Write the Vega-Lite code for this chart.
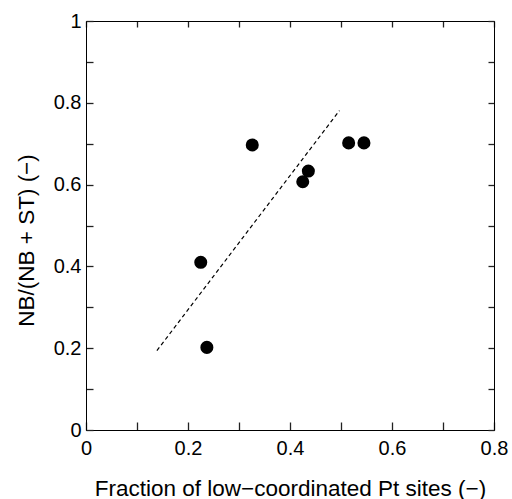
{
  "$schema": "https://vega.github.io/schema/vega-lite/v6.json",
  "width": 408,
  "height": 409,
  "autosize": {"type": "none"},
  "padding": {"left": 86, "top": 21, "right": 18, "bottom": 69},
  "background": "white",
  "config": {
    "view": {"stroke": null},
    "axis": {
      "grid": false,
      "domainColor": "black",
      "domainWidth": 1,
      "ticks": true,
      "tickColor": "#222222",
      "tickWidth": 1.3,
      "labelFont": "Liberation Sans",
      "labelFontSize": 20,
      "labelColor": "black",
      "titleFont": "Liberation Sans",
      "titleFontSize": 22.5,
      "titleFontWeight": "normal",
      "titleColor": "black"
    }
  },
  "layer": [
    {
      "data": {"values": [
        {"x": 0.326, "y": 0.697},
        {"x": 0.225, "y": 0.410},
        {"x": 0.237, "y": 0.202},
        {"x": 0.436, "y": 0.633},
        {"x": 0.425, "y": 0.607},
        {"x": 0.515, "y": 0.702},
        {"x": 0.545, "y": 0.702}
      ]},
      "mark": {"type": "circle", "color": "black", "opacity": 1, "size": 170},
      "encoding": {
        "x": {
          "field": "x", "type": "quantitative",
          "scale": {"domain": [0, 0.8], "nice": false, "zero": false},
          "axis": {
            "orient": "bottom",
            "title": "Fraction of low−coordinated Pt sites (−)",
            "values": [0, 0.1, 0.2, 0.3, 0.4, 0.5, 0.6, 0.7, 0.8],
            "labelExpr": "round(datum.value*10)%2==0 ? format(datum.value, '.1~f') : ''",
            "tickSize": -8,
            "labelPadding": 16,
            "labelFlush": false,
            "labelOverlap": false,
            "titleY": 65,
            "titleBaseline": "alphabetic"
          }
        },
        "y": {
          "field": "y", "type": "quantitative",
          "scale": {"domain": [0, 1], "nice": false, "zero": false},
          "axis": {
            "orient": "left",
            "title": "NB/(NB + ST) (−)",
            "values": [0, 0.1, 0.2, 0.3, 0.4, 0.5, 0.6, 0.7, 0.8, 0.9, 1],
            "labelExpr": "round(datum.value*10)%2==0 ? format(datum.value, '.1~f') : ''",
            "tickSize": -7,
            "labelPadding": 12,
            "labelFlush": false,
            "labelOverlap": false,
            "titleX": -53,
            "titleY": 219,
            "titleBaseline": "alphabetic"
          }
        }
      }
    },
    {
      "data": {"values": [
        {"x": 0.139, "y": 0.194},
        {"x": 0.497, "y": 0.781}
      ]},
      "mark": {"type": "line", "color": "black", "strokeDash": [4, 3], "strokeWidth": 1.2},
      "encoding": {
        "x": {
          "field": "x", "type": "quantitative",
          "scale": {"domain": [0, 0.8], "nice": false, "zero": false},
          "axis": {
            "orient": "top",
            "title": null,
            "labels": false,
            "values": [0, 0.1, 0.2, 0.3, 0.4, 0.5, 0.6, 0.7, 0.8],
            "tickSize": -6
          }
        },
        "y": {
          "field": "y", "type": "quantitative",
          "scale": {"domain": [0, 1], "nice": false, "zero": false},
          "axis": {
            "orient": "right",
            "title": null,
            "labels": false,
            "values": [0, 0.1, 0.2, 0.3, 0.4, 0.5, 0.6, 0.7, 0.8, 0.9, 1],
            "tickSize": -6
          }
        }
      }
    }
  ],
  "resolve": {"axis": {"x": "independent", "y": "independent"}}
}
